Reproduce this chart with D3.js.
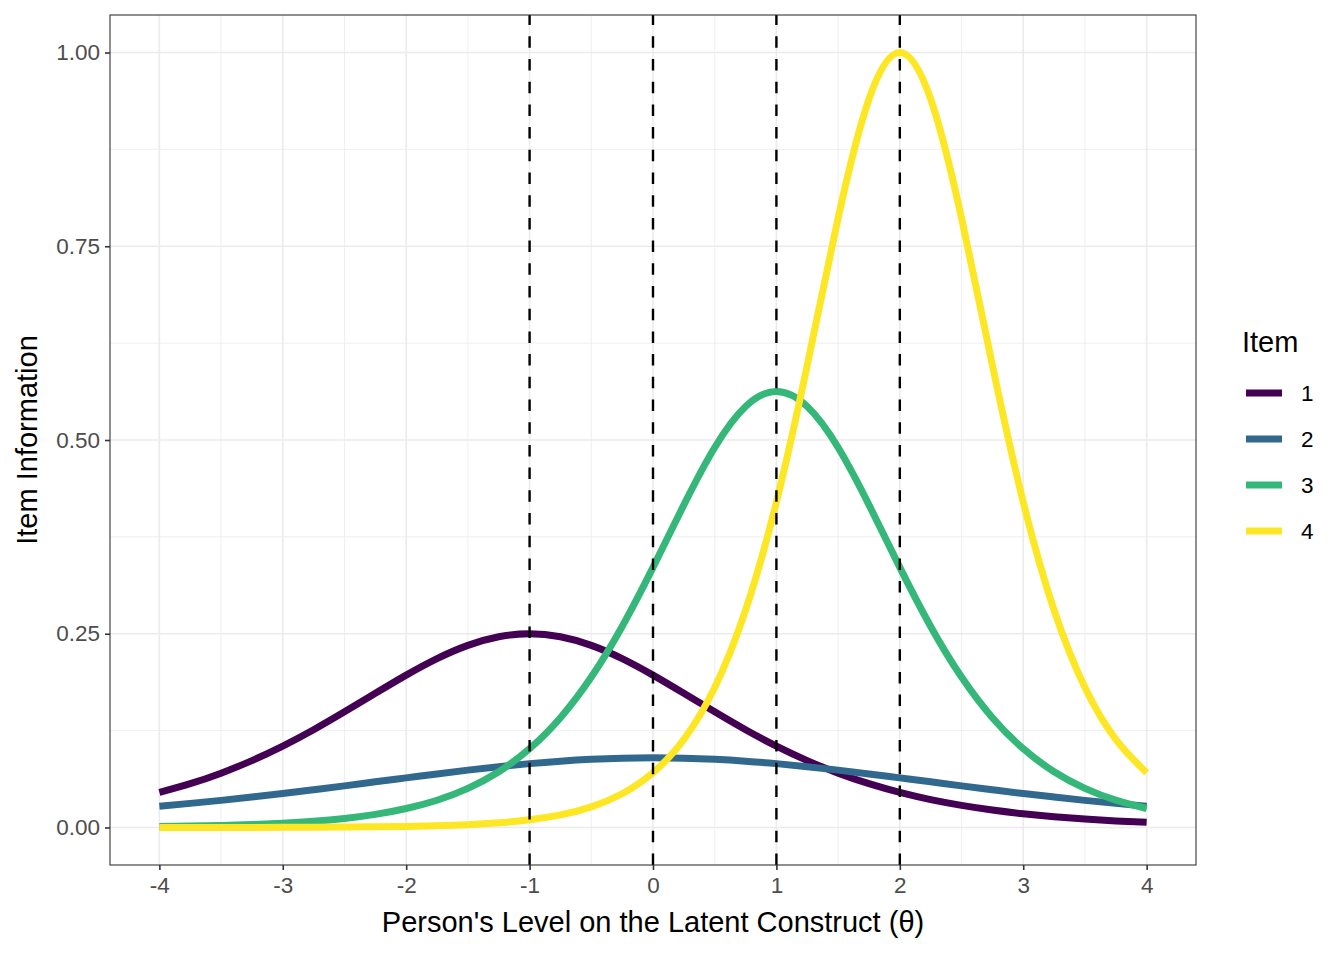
<!DOCTYPE html>
<html><head><meta charset="utf-8">
<script src="https://cdn.jsdelivr.net/npm/d3@7"></script>
<style>body{margin:0;background:#fff;} svg{font-family:"Liberation Sans",Arial,sans-serif;}</style>
</head><body><svg id="c" width="1344" height="960"></svg>
<script>
const theta = [-4,-3.75,-3.5,-3.25,-3,-2.75,-2.5,-2.25,-2,-1.75,-1.5,-1.25,-1,-0.75,-0.5,-0.25,0,0.25,0.5,0.75,1,1.25,1.5,1.75,2,2.25,2.5,2.75,3,3.25,3.5,3.75,4];
const item1 = [0.0452,0.0565,0.0701,0.0863,0.1050,0.1261,0.1492,0.1731,0.1966,0.2179,0.2350,0.2461,0.25,0.2461,0.2350,0.2179,0.1966,0.1731,0.1492,0.1261,0.1050,0.0863,0.0701,0.0565,0.0452,0.0359,0.0285,0.0225,0.0177,0.0139,0.0109,0.0085,0.0067];
const item2 = [0.0275,0.0311,0.0350,0.0393,0.0438,0.0487,0.0537,0.0589,0.0640,0.0691,0.0740,0.0784,0.0824,0.0856,0.0880,0.0895,0.09,0.0895,0.0880,0.0856,0.0824,0.0784,0.0740,0.0691,0.0640,0.0589,0.0537,0.0487,0.0438,0.0393,0.0350,0.0311,0.0275];
const item3 = [0.0012,0.0018,0.0026,0.0038,0.0056,0.0081,0.0117,0.0169,0.0245,0.0352,0.0505,0.0720,0.1017,0.1417,0.1941,0.2594,0.3356,0.4163,0.4903,0.5432,0.5625,0.5432,0.4903,0.4163,0.3356,0.2594,0.1941,0.1417,0.1017,0.0720,0.0505,0.0352,0.0245];
const item4 = [0.00002,0.00004,0.00007,0.00011,0.00018,0.0003,0.0005,0.0008,0.0013,0.0022,0.0036,0.0060,0.0099,0.0162,0.0266,0.0435,0.0707,0.1138,0.1807,0.2804,0.4200,0.5966,0.7864,0.9400,1.0,0.9400,0.7864,0.5966,0.4200,0.2804,0.1807,0.1138,0.0707];
const itemNames = ["1","2","3","4"];
const itemColors = ["#440154","#31688E","#35B779","#FDE725"];
const difficulties = [-1,0,1,2];
const xTicks = [-4,-3,-2,-1,0,1,2,3,4];
const xMinor = [-3.5,-2.5,-1.5,-0.5,0.5,1.5,2.5,3.5];
const yTicks = [0,0.25,0.5,0.75,1];
const yMinor = [0.125,0.375,0.625,0.875];

const series = [item1,item2,item3,item4];
const svg = d3.select("#c");
const L=110,R=1196,T=15,B=865;
const x = d3.scaleLinear().domain([-4.4,4.4]).range([L,R]);
const y = d3.scaleLinear().domain([-0.0484,1.0484]).range([B,T]);

const g = svg.append("g");
g.selectAll(".mnx").data(xMinor).join("line").attr("x1",d=>x(d)).attr("x2",d=>x(d)).attr("y1",T).attr("y2",B).attr("stroke","#EBEBEB").attr("stroke-width",0.8);
g.selectAll(".mny").data(yMinor).join("line").attr("y1",d=>y(d)).attr("y2",d=>y(d)).attr("x1",L).attr("x2",R).attr("stroke","#EBEBEB").attr("stroke-width",0.8);
g.selectAll(".mjx").data(xTicks).join("line").attr("x1",d=>x(d)).attr("x2",d=>x(d)).attr("y1",T).attr("y2",B).attr("stroke","#EBEBEB").attr("stroke-width",1.6);
g.selectAll(".mjy").data(yTicks).join("line").attr("y1",d=>y(d)).attr("y2",d=>y(d)).attr("x1",L).attr("x2",R).attr("stroke","#EBEBEB").attr("stroke-width",1.6);

const line = d3.line().x((d,i)=>x(theta[i])).y(d=>y(d)).curve(d3.curveNatural);
series.forEach((s,k)=>{
  svg.append("path").attr("d",line(s)).attr("fill","none").attr("stroke",itemColors[k]).attr("stroke-width",7);
});

svg.selectAll(".vl").data(difficulties).join("line").attr("x1",d=>x(d)).attr("x2",d=>x(d)).attr("y1",B).attr("y2",T)
  .attr("stroke","#000").attr("stroke-width",2.4).attr("stroke-dasharray","11.5,11.2");

svg.append("rect").attr("x",L).attr("y",T).attr("width",R-L).attr("height",B-T).attr("fill","none").attr("stroke","#333").attr("stroke-width",1.1);

const xa = svg.append("g").attr("transform",`translate(0,${B})`).call(d3.axisBottom(x).tickValues(xTicks).tickSize(5).tickPadding(4).tickFormat(d=>String(d)));
const ya = svg.append("g").attr("transform",`translate(${L},0)`).call(d3.axisLeft(y).tickValues(yTicks).tickSize(5).tickPadding(5).tickFormat(d3.format(".2f")));
[xa,ya].forEach(a=>{
  a.select(".domain").remove();
  a.selectAll(".tick line").attr("stroke","#333").attr("stroke-width",1.6);
  a.selectAll(".tick text").attr("fill","#4D4D4D").attr("font-size","22.5px").attr("font-family","Liberation Sans, Arial, sans-serif");
});
xa.selectAll(".tick text").attr("dy","0.83em");

svg.append("text").attr("x",(L+R)/2).attr("y",932).attr("text-anchor","middle").attr("font-size","29px").attr("fill","#000").text("Person's Level on the Latent Construct (θ)");
svg.append("text").attr("transform",`translate(37,${(T+B)/2}) rotate(-90)`).attr("text-anchor","middle").attr("font-size","29px").attr("fill","#000").text("Item Information");

const leg = svg.append("g");
leg.append("text").attr("x",1242).attr("y",352).attr("font-size","29px").attr("fill","#000").text("Item");
itemNames.forEach((n,k)=>{
  const yy = 393 + k*46;
  leg.append("line").attr("x1",1246).attr("x2",1282).attr("y1",yy).attr("y2",yy).attr("stroke",itemColors[k]).attr("stroke-width",7);
  leg.append("text").attr("x",1301).attr("y",yy+8).attr("font-size","22.5px").attr("fill","#000").text(n);
});
</script></body></html>
